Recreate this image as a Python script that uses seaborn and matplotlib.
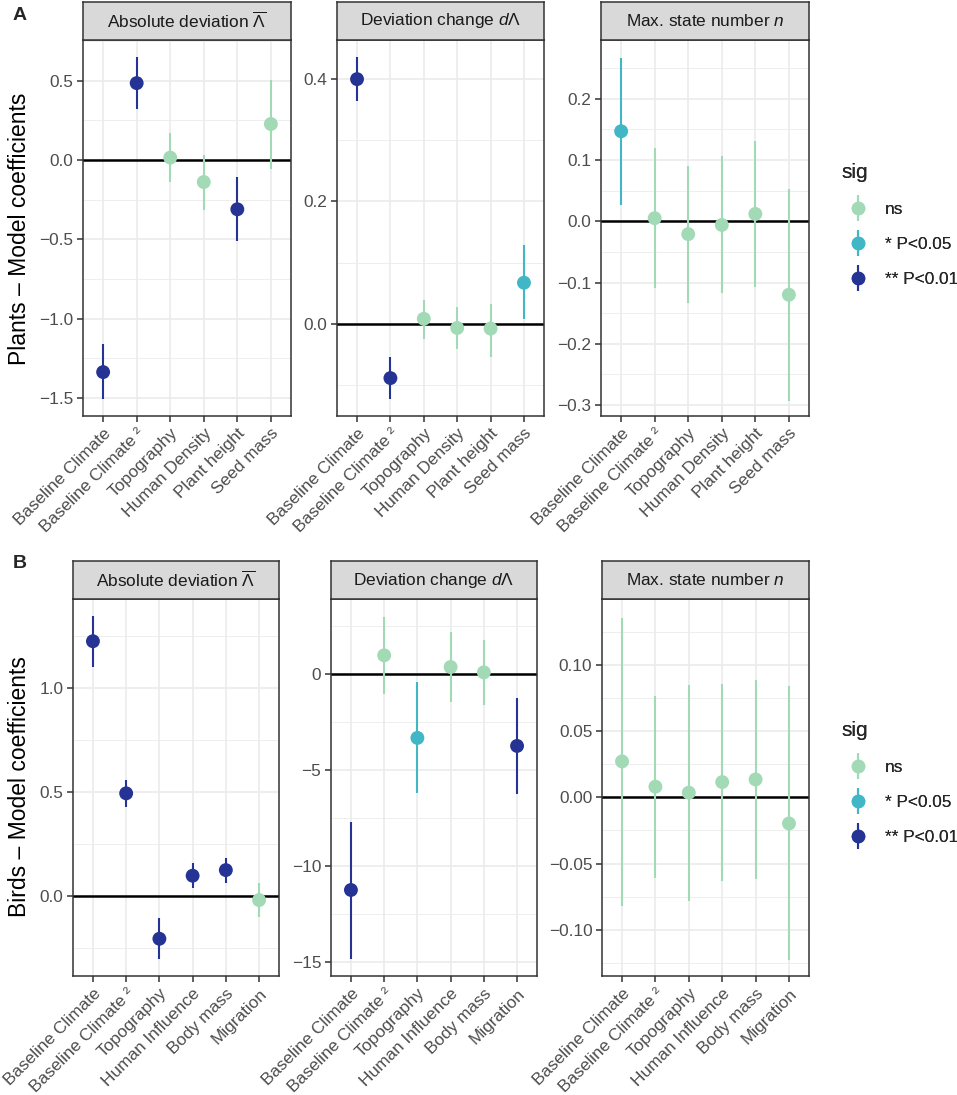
import numpy as np
import pandas as pd
import matplotlib
matplotlib.use("Agg")
import matplotlib.pyplot as plt
from matplotlib.lines import Line2D
from matplotlib.ticker import FixedLocator, FuncFormatter
import seaborn as sns

sns.set_theme(style="white")
plt.rcParams["font.family"] = ["Liberation Sans", "DejaVu Sans"]
plt.rcParams["mathtext.fontset"] = "custom"
plt.rcParams["mathtext.rm"] = "Liberation Sans"
plt.rcParams["mathtext.it"] = "Liberation Sans:italic"
plt.rcParams["mathtext.bf"] = "Liberation Sans:bold"

# ---------------- data ----------------
plant_cats = ["Baseline Climate", "Baseline Climate ²", "Topography",
              "Human Density", "Plant height", "Seed mass"]
bird_cats = ["Baseline Climate", "Baseline Climate ²", "Topography",
             "Human Influence", "Body mass", "Migration"]

sig_levels = ["ns", "* P<0.05", "** P<0.01"]
sig_colors = ["#a1dab4", "#41b6c4", "#253494"]

# Plants – absolute deviation
pa_est = [-1.338, 0.485, 0.015, -0.139, -0.311, 0.227]
pa_lo = [-1.508, 0.320, -0.141, -0.313, -0.514, -0.057]
pa_hi = [-1.163, 0.651, 0.168, 0.033, -0.110, 0.504]
pa_sig = ["** P<0.01", "** P<0.01", "ns", "ns", "** P<0.01", "ns"]

# Plants – deviation change
pd_est = [0.400, -0.089, 0.008, -0.007, -0.008, 0.067]
pd_lo = [0.364, -0.123, -0.025, -0.042, -0.055, 0.008]
pd_hi = [0.436, -0.055, 0.038, 0.027, 0.033, 0.128]
pd_sig = ["** P<0.01", "** P<0.01", "ns", "ns", "ns", "* P<0.05"]

# Plants – max state number
pn_est = [0.147, 0.005, -0.021, -0.006, 0.012, -0.120]
pn_lo = [0.027, -0.109, -0.133, -0.117, -0.108, -0.293]
pn_hi = [0.267, 0.119, 0.090, 0.106, 0.131, 0.052]
pn_sig = ["* P<0.05", "ns", "ns", "ns", "ns", "ns"]

# Birds – absolute deviation
ba_est = [1.226, 0.495, -0.204, 0.099, 0.126, -0.018]
ba_lo = [1.104, 0.428, -0.303, 0.042, 0.064, -0.098]
ba_hi = [1.345, 0.560, -0.104, 0.159, 0.183, 0.065]
ba_sig = ["** P<0.01", "** P<0.01", "** P<0.01", "** P<0.01", "** P<0.01", "ns"]

# Birds – deviation change
bd_est = [-11.26, 0.99, -3.32, 0.38, 0.10, -3.74]
bd_lo = [-14.87, -1.03, -6.21, -1.43, -1.62, -6.25]
bd_hi = [-7.69, 2.99, -0.42, 2.21, 1.79, -1.25]
bd_sig = ["** P<0.01", "ns", "* P<0.05", "ns", "ns", "** P<0.01"]

# Birds – max state number
bn_est = [0.0272, 0.0081, 0.0036, 0.0116, 0.0136, -0.0197]
bn_lo = [-0.082, -0.061, -0.078, -0.063, -0.062, -0.123]
bn_hi = [0.136, 0.077, 0.085, 0.086, 0.089, 0.084]
bn_sig = ["ns", "ns", "ns", "ns", "ns", "ns"]

strip_titles = [r"Absolute deviation $\overline{\Lambda}$",
                r"Deviation change $d\Lambda$",
                r"Max. state number $n$"]

# ---------------- layout ----------------
W, H = 957, 1095
fig = plt.figure(figsize=(W / 100, H / 100), dpi=100)
pal = dict(zip(sig_levels, sig_colors))
TXT = 12.4


def rect(x0, y0, x1, y1):
    return [x0 / W, 1 - y1 / H, (x1 - x0) / W, (y1 - y0) / H]


def fmt(dec):
    def f(v, pos):
        s = f"{v:.{dec}f}"
        if s.startswith("-"):
            s = "\u2212" + s[1:]
        return s
    return f


panels = [
    (plant_cats, pa_est, pa_lo, pa_hi, pa_sig, (83, 291), (40, 416), (-1.615, 0.757),
     [-1.5, -1.0, -0.5, 0.0, 0.5], [-1.25, -0.75, -0.25, 0.25, 0.75], 1, 0),
    (plant_cats, pd_est, pd_lo, pd_hi, pd_sig, (337, 544), (40, 416), (-0.151, 0.464),
     [0.0, 0.2, 0.4], [-0.1, 0.1, 0.3], 1, 1),
    (plant_cats, pn_est, pn_lo, pn_hi, pn_sig, (601, 809), (40, 416), (-0.318, 0.296),
     [-0.3, -0.2, -0.1, 0.0, 0.1, 0.2], [-0.25, -0.15, -0.05, 0.05, 0.15, 0.25], 1, 2),
    (bird_cats, ba_est, ba_lo, ba_hi, ba_sig, (73, 279), (599, 976), (-0.383, 1.429),
     [0.0, 0.5, 1.0], [-0.25, 0.25, 0.75, 1.25], 1, 0),
    (bird_cats, bd_est, bd_lo, bd_hi, bd_sig, (331, 537), (599, 976), (-15.75, 3.93),
     [-15, -10, -5, 0], [-12.5, -7.5, -2.5, 2.5], 0, 1),
    (bird_cats, bn_est, bn_lo, bn_hi, bn_sig, (602, 809), (599, 976), (-0.135, 0.150),
     [-0.10, -0.05, 0.0, 0.05, 0.10], [-0.125, -0.075, -0.025, 0.025, 0.075, 0.125], 2, 2),
]

for cats, est, lo, hi, sig, (x0, x1), (y0, y1), ylim, majors, minors, dec, col in panels:
    ax = fig.add_axes(rect(x0, y0, x1, y1))
    df = pd.DataFrame({"cat": cats, "pos": np.arange(len(cats)), "est": est,
                       "lo": lo, "hi": hi, "sig": sig})
    ax.set_facecolor("white")
    for m in minors:
        ax.axhline(m, color="#ebebeb", lw=0.6, zorder=0)
    for m in majors:
        ax.axhline(m, color="#ebebeb", lw=1.2, zorder=0)
    for p in df["pos"]:
        ax.axvline(p, color="#ebebeb", lw=1.2, zorder=0)
    ax.axhline(0, color="black", lw=1.8, zorder=1)
    ax.vlines(df["pos"], df["lo"], df["hi"], colors=df["sig"].map(pal), lw=1.5, zorder=2)
    sns.scatterplot(data=df, x="pos", y="est", hue="sig", hue_order=sig_levels,
                    palette=pal, s=100, edgecolor="none", linewidth=0, legend=False,
                    ax=ax, zorder=3)
    ax.set_xlim(-0.6, len(cats) - 0.4)
    ax.set_ylim(*ylim)
    ax.yaxis.set_major_locator(FixedLocator(majors))
    ax.yaxis.set_major_formatter(FuncFormatter(fmt(dec)))
    ax.set_xticks(df["pos"])
    ax.set_xticklabels(df["cat"], rotation=45, ha="right", va="top",
                       rotation_mode="anchor")
    ax.tick_params(axis="both", which="major", length=4, width=1.1, color="#333333",
                   labelsize=TXT, labelcolor="#4d4d4d", pad=3, direction="out",
                   bottom=True, left=True)
    ax.set_xlabel("")
    ax.set_ylabel("")
    for s in ax.spines.values():
        s.set_color("#333333")
        s.set_linewidth(1.1)
        s.set_zorder(5)
    sy0 = y0 - 38
    sax = fig.add_axes(rect(x0, sy0, x1, y0))
    sax.set_facecolor("#d9d9d9")
    sax.set_xticks([])
    sax.set_yticks([])
    for s in sax.spines.values():
        s.set_color("#333333")
        s.set_linewidth(1.1)
    sax.text(0.5, 0.5, strip_titles[col], ha="center", va="center",
             fontsize=TXT, color="#1a1a1a", transform=sax.transAxes)

# axis titles
fig.text(20 / W, 1 - 229 / H, "Plants – Model coefficients", rotation=90,
         ha="center", va="center", fontsize=16.5, color="black")
fig.text(20 / W, 1 - 787 / H, "Birds – Model coefficients", rotation=90,
         ha="center", va="center", fontsize=16.5, color="black")

# panel letters
fig.text(13 / W, 1 - 16 / H, "A", ha="left", va="center", fontsize=14,
         fontweight="bold")
fig.text(13 / W, 1 - 564 / H, "B", ha="left", va="center", fontsize=14,
         fontweight="bold")

# legends
handles = []
for c in sig_colors:
    handles.append((Line2D([], [], marker="|", markersize=19, markeredgewidth=1.5,
                           color=c, linestyle="none"),
                    Line2D([], [], marker="o", markersize=9.8, color=c,
                           markeredgewidth=0, linestyle="none")))

for ytitle in (163, 721):
    lg = fig.legend(handles, sig_levels, loc="upper left",
                    bbox_to_anchor=(841 / W, 1 - ytitle / H), frameon=False,
                    title="sig", title_fontsize=15, fontsize=TXT,
                    handlelength=2.0, handletextpad=0.55, labelspacing=1.15,
                    borderpad=0, borderaxespad=0, alignment="left")
    fig.add_artist(lg)

fig.savefig("out.png", dpi=100, facecolor="white")
